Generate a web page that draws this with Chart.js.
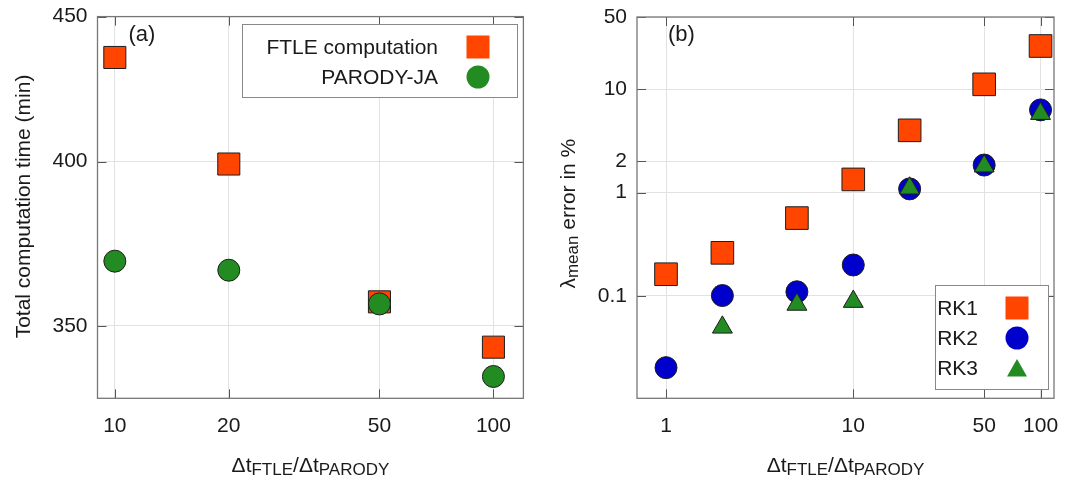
<!DOCTYPE html>
<html>
<head>
<meta charset="utf-8">
<script src="https://cdn.jsdelivr.net/npm/chart.js@4.4.1/dist/chart.umd.min.js"></script>
<style>
  body { margin: 0; background: #fff; }
  canvas { position: absolute; top: 0; }
</style>
</head>
<body>
<canvas id="chartA" width="540" height="481" style="left:0"></canvas>
<canvas id="chartB" width="531" height="481" style="left:540px"></canvas>
<script>
// ---- panel (a): total computation time ----
const ratioA = [10, 20, 50, 100];
const ftleTime = [435.3, 399.2, 356.9, 344.0];
const parodyTime = [368.9, 366.2, 356.3, 335.9];
const xTicksA = [10, 20, 50, 100];
const yTicksA = [350, 400, 450];

// ---- panel (b): lambda_mean error ----
const ratioB = [1, 2, 5, 10, 20, 50, 100];
const rk1Err = [0.162, 0.261, 0.566, 1.34, 4.0, 11.15, 26.2];
const rk2Err = [0.0202, 0.1007, 0.1095, 0.199, 1.085, 1.845, 6.31];
const rk3Ratio = [2, 5, 10, 20, 50, 100];
const rk3Err = [0.0496, 0.0825, 0.088, 1.1, 1.8, 5.8];
const xTicksB = [1, 10, 50, 100];
const yTicksB = [0.1, 1, 2, 10, 50];

const ORANGE = '#ff4500';
const GREEN = '#228b22';
const BLUE = '#0000cd';
const EDGE = '#1e1e1e';
const TEXT = '#1a1a1a';
const FONT = '"Liberation Sans", Arial, sans-serif';

function pts(xs, ys) {
  return xs.map(function(x, i) { return { x: x, y: ys[i] }; });
}

// draws text made of normal and subscript parts, centred on x
function drawRich(ctx, parts, x, y) {
  var total = 0;
  parts.forEach(function(p) {
    ctx.font = (p.sub ? '17px ' : '21px ') + FONT;
    p.w = ctx.measureText(p.t).width;
    total += p.w;
  });
  var cx = x - total / 2;
  ctx.textAlign = 'left';
  ctx.textBaseline = 'alphabetic';
  parts.forEach(function(p) {
    ctx.font = (p.sub ? '17px ' : '21px ') + FONT;
    ctx.fillText(p.t, cx, p.sub ? y + 3 : y);
    cx += p.w;
  });
}

function drawMarker(ctx, style, color, x, y) {
  ctx.fillStyle = color;
  ctx.beginPath();
  if (style === 'rect') {
    ctx.rect(x - 11.5, y - 11.5, 23, 23);
  } else if (style === 'circle') {
    ctx.arc(x, y, 11.5, 0, Math.PI * 2);
  } else {
    ctx.moveTo(x, y - 9);
    ctx.lineTo(x + 10, y + 8.5);
    ctx.lineTo(x - 10, y + 8.5);
    ctx.closePath();
  }
  ctx.fill();
}

function framePlugin(opts) {
  return {
    id: 'frame',
    beforeDatasetsDraw: function(chart) {
      var ctx = chart.ctx, a = chart.chartArea;
      var xs = chart.scales.x, ys = chart.scales.y;
      ctx.save();
      ctx.strokeStyle = '#555';
      ctx.lineWidth = 1;
      ctx.beginPath();
      opts.xTicks.forEach(function(v) {
        var px = Math.round(xs.getPixelForValue(v)) + 0.5;
        ctx.moveTo(px, a.bottom); ctx.lineTo(px, a.bottom - 9);
        ctx.moveTo(px, a.top); ctx.lineTo(px, a.top + 9);
      });
      opts.yTicks.forEach(function(v) {
        var py = Math.round(ys.getPixelForValue(v)) + 0.5;
        ctx.moveTo(a.left, py); ctx.lineTo(a.left + 9, py);
        ctx.moveTo(a.right, py); ctx.lineTo(a.right - 9, py);
      });
      ctx.stroke();
      ctx.strokeStyle = '#777';
      ctx.lineWidth = 1.3;
      ctx.strokeRect(a.left, a.top, a.right - a.left, a.bottom - a.top);
      ctx.restore();
    },
    afterDraw: function(chart) {
      var ctx = chart.ctx, a = chart.chartArea;
      ctx.save();
      ctx.fillStyle = TEXT;
      // panel label
      ctx.font = '22px ' + FONT;
      ctx.textAlign = 'left';
      ctx.textBaseline = 'middle';
      ctx.fillText(opts.tag, a.left + 31, 35);
      // legend box
      var lb = opts.legend;
      ctx.fillStyle = '#fff';
      ctx.fillRect(lb.x, lb.y, lb.w, lb.h);
      ctx.strokeStyle = '#888';
      ctx.lineWidth = 1;
      ctx.strokeRect(lb.x + 0.5, lb.y + 0.5, lb.w, lb.h);
      ctx.font = '21px ' + FONT;
      ctx.textAlign = 'right';
      chart.data.datasets.forEach(function(ds, i) {
        var ey = lb.y + lb.first + i * lb.step;
        ctx.fillStyle = TEXT;
        ctx.fillText(ds.label, lb.textRight, ey + 1);
        drawMarker(ctx, ds.pointStyle, ds.backgroundColor, lb.markX, ey);
      });
      // axis titles
      ctx.fillStyle = TEXT;
      drawRich(ctx, [{ t: 'Δt' }, { t: 'FTLE', sub: true }, { t: '/Δt' }, { t: 'PARODY', sub: true }],
        (a.left + a.right) / 2, 472);
      ctx.translate(opts.yTitleX, (a.top + a.bottom) / 2 + opts.yTitleShift);
      ctx.rotate(-Math.PI / 2);
      drawRich(ctx, opts.yTitle, 0, 0);
      ctx.restore();
    }
  };
}

function axis(min, max, ticks, pad, fit) {
  return {
    type: 'logarithmic',
    min: min,
    max: max,
    afterBuildTicks: function(scale) {
      scale.ticks = ticks.map(function(v) { return { value: v }; });
    },
    afterFit: fit,
    ticks: {
      color: TEXT,
      font: { family: FONT, size: 21 },
      autoSkip: false,
      maxRotation: 0,
      padding: pad,
      callback: function(v) { return String(v); }
    },
    grid: { color: '#e2e2e2', drawTicks: false },
    border: { display: false }
  };
}

function panel(id, datasets, sc, layoutPad, plug) {
  return new Chart(document.getElementById(id), {
    type: 'scatter',
    data: { datasets: datasets },
    options: {
      responsive: false,
      animation: false,
      events: [],
      layout: { padding: layoutPad },
      plugins: { legend: { display: false }, tooltip: { enabled: false } },
      scales: sc
    },
    plugins: [plug]
  });
}

// fixed axis sizes so the plot boxes sit where the reference has them
function xFit(scale) {
  scale.height = 82.7;
  scale.paddingLeft = 0;
  scale.paddingRight = 0;
}
function yFitW(w) {
  return function(scale) {
    scale.width = w;
    scale.paddingTop = 0;
    scale.paddingBottom = 0;
  };
}

panel('chartA', [
  { label: 'FTLE computation', data: pts(ratioA, ftleTime), pointStyle: 'rect', pointRadius: 15.6,
    backgroundColor: ORANGE, borderColor: EDGE, borderWidth: 1, order: 1 },
  { label: 'PARODY-JA', data: pts(ratioA, parodyTime), pointStyle: 'circle', pointRadius: 11,
    backgroundColor: GREEN, borderColor: EDGE, borderWidth: 1, order: 0 }
], {
  x: axis(9, 120, xTicksA, 15, xFit),
  y: axis(330, 450, yTicksA, 10, yFitW(97.5))
}, { top: 15, right: 12, left: 0, bottom: 0 }, framePlugin({
  tag: '(a)', xTicks: xTicksA, yTicks: yTicksA,
  legend: { x: 242, y: 24, w: 275, h: 73, first: 23, step: 30, textRight: 438, markX: 478 },
  yTitle: [{ t: 'Total computation time (min)' }], yTitleX: 29.5, yTitleShift: -1
}));

panel('chartB', [
  { label: 'RK1', data: pts(ratioB, rk1Err), pointStyle: 'rect', pointRadius: 16,
    backgroundColor: ORANGE, borderColor: EDGE, borderWidth: 1, order: 3 },
  { label: 'RK2', data: pts(ratioB, rk2Err), pointStyle: 'circle', pointRadius: 11,
    backgroundColor: BLUE, borderColor: EDGE, borderWidth: 1, order: 2 },
  { label: 'RK3', data: pts(rk3Ratio, rk3Err), pointStyle: 'triangle', pointRadius: 11.5,
    backgroundColor: GREEN, borderColor: EDGE, borderWidth: 1, order: 1 }
], {
  x: axis(0.705, 118, xTicksB, 15, xFit),
  y: axis(0.0102, 50, yTicksB, 10, yFitW(97))
}, { top: 15, right: 5, left: 0, bottom: 0 }, framePlugin({
  tag: '(b)', xTicks: xTicksB, yTicks: yTicksB,
  legend: { x: 395, y: 285, w: 113, h: 104, first: 23, step: 30, textRight: 438, markX: 477 },
  yTitle: [{ t: 'λ' }, { t: 'mean', sub: true }, { t: ' error in %' }], yTitleX: 35, yTitleShift: 6
}));
</script>
</body>
</html>
